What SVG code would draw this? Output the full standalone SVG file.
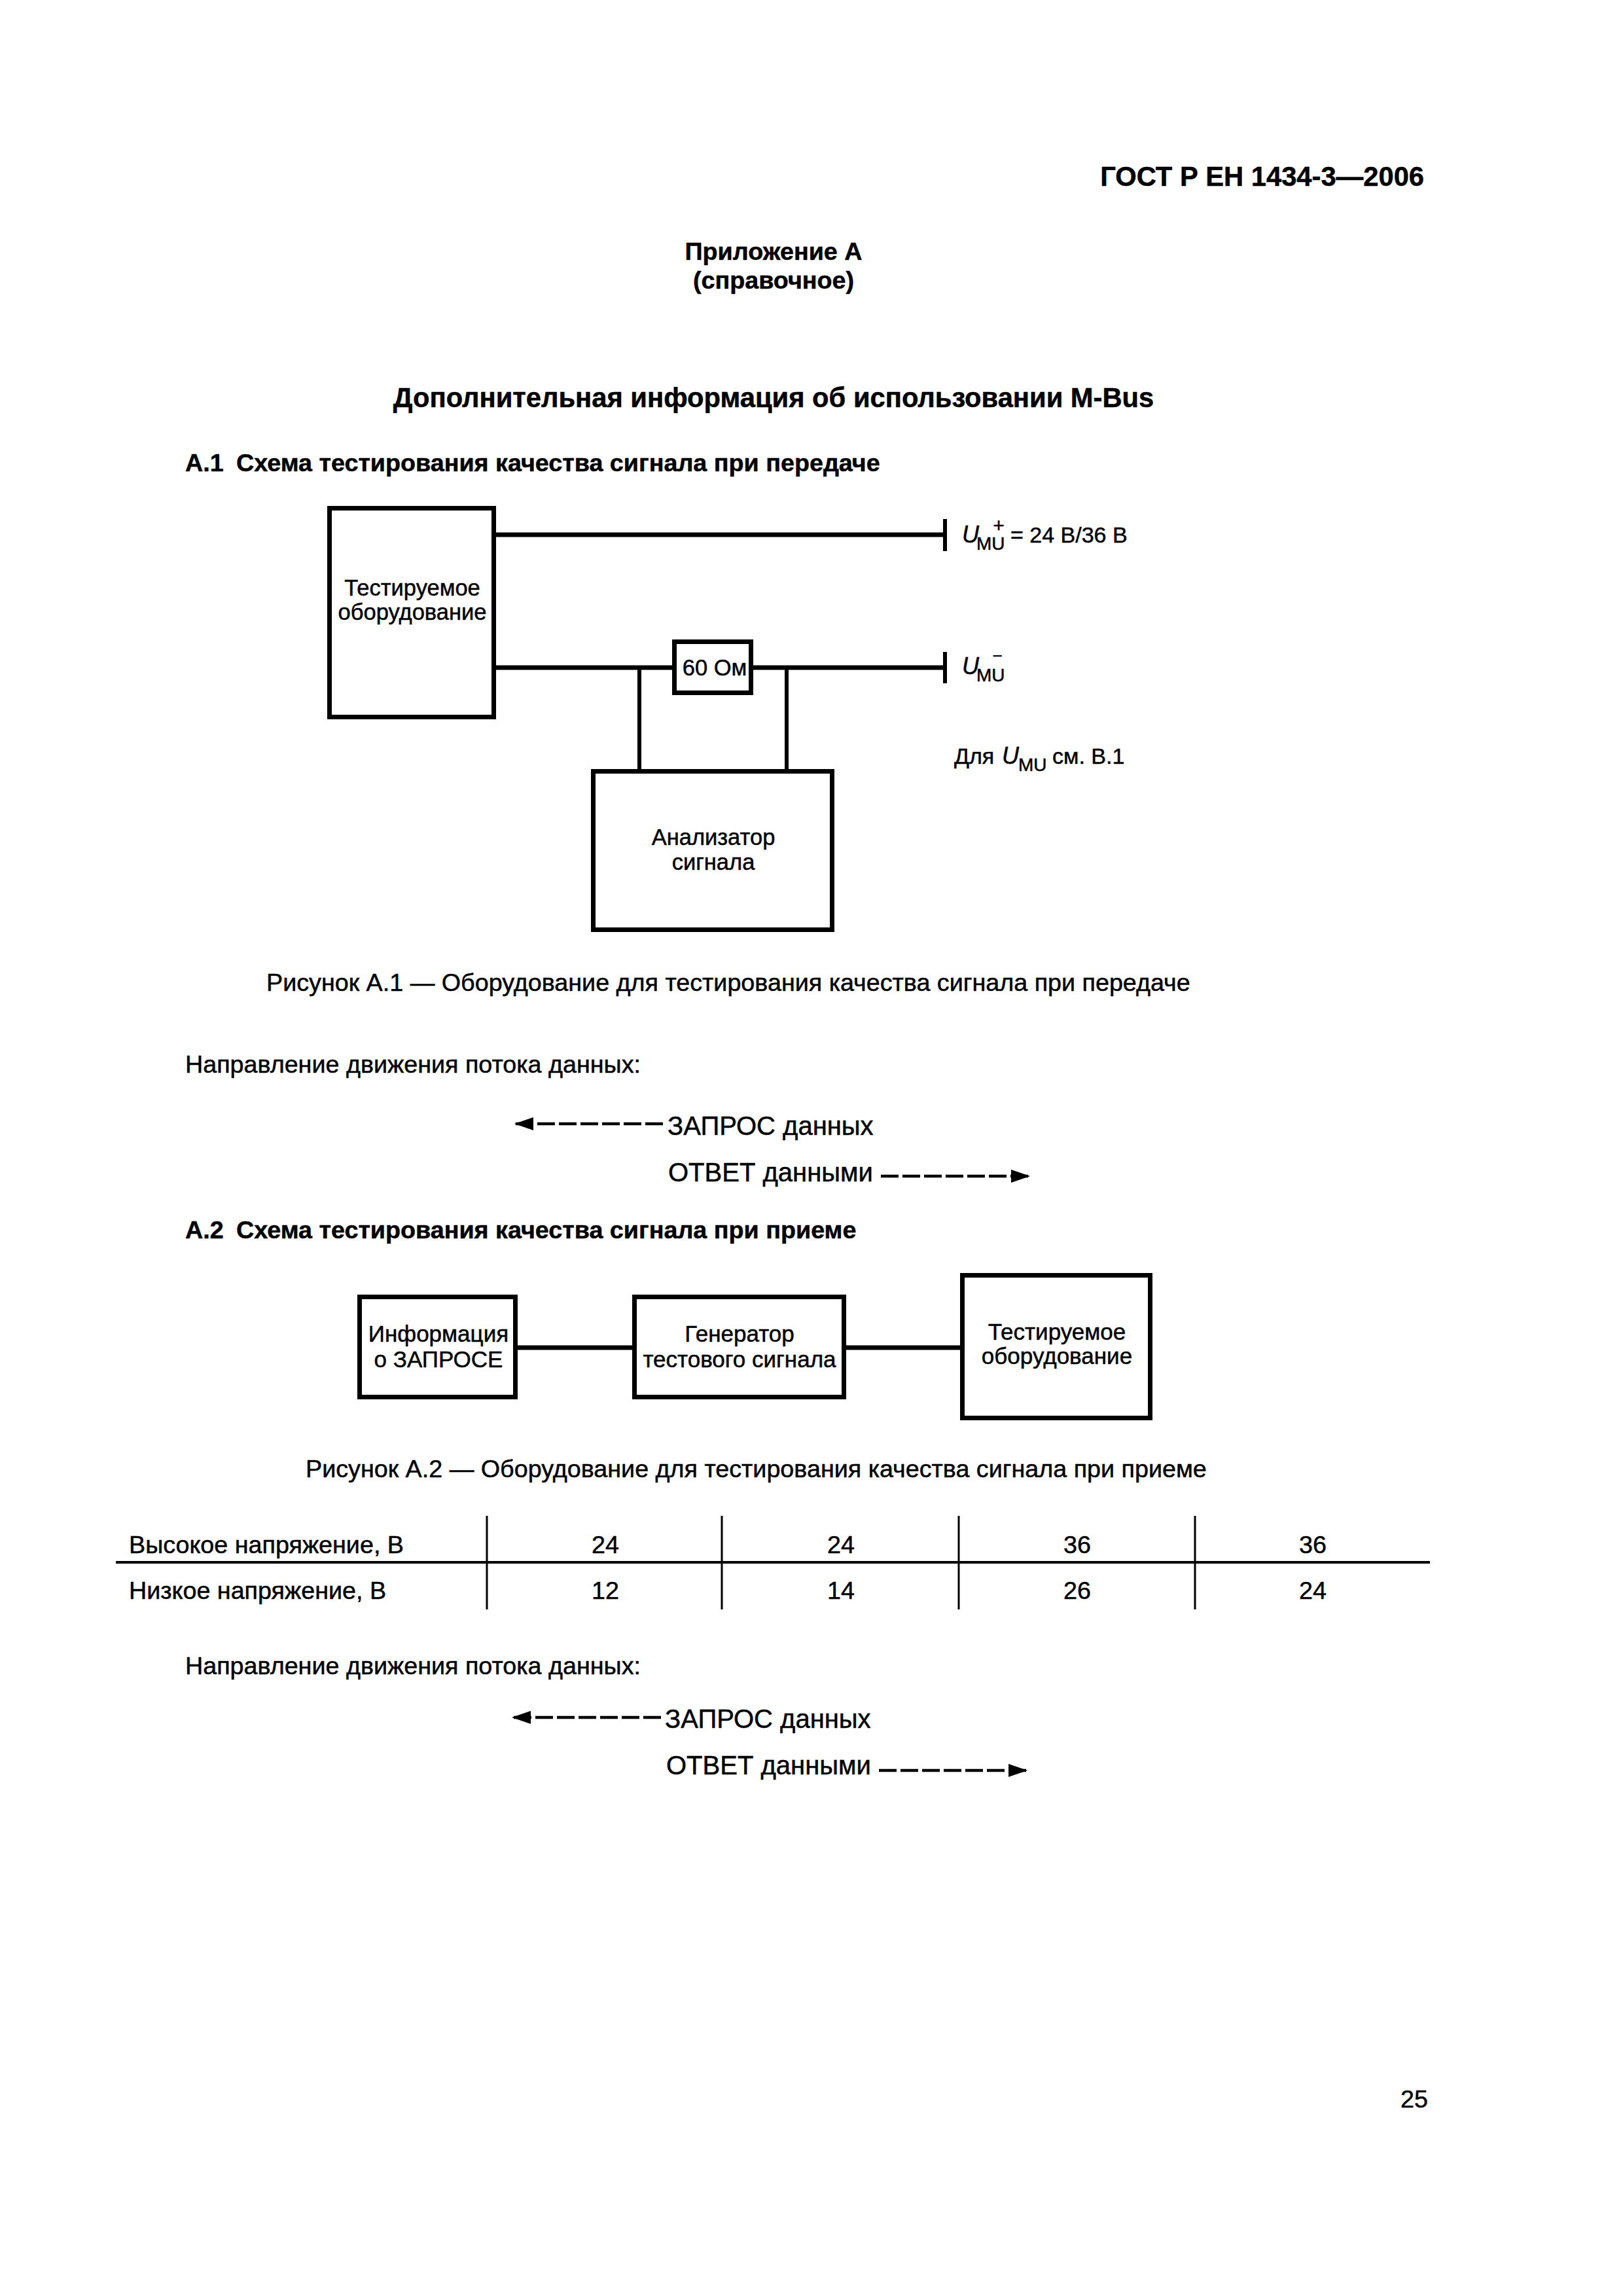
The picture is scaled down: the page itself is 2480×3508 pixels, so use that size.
<svg xmlns="http://www.w3.org/2000/svg" width="2480" height="3508" viewBox="0 0 2480 3508">
<style>
text{font-family:"Liberation Sans",Arial,sans-serif;font-size:37.700px;fill:#000;stroke:#000;stroke-width:.5px}
.b{font-weight:bold}
.c{text-anchor:middle}
.e{text-anchor:end}
.h{font-size:41.700px}
.n{font-size:34.500px}
.m{font-size:35px}
.f{font-size:40px}
.l{font-size:34px}
.i{font-style:italic;font-size:36px}
.s{font-size:28px}
.box{fill:#fff;stroke:#000;stroke-width:7}
.w{fill:none;stroke:#000;stroke-width:7}
.t{fill:none;stroke:#000;stroke-width:6}
.g{fill:none;stroke:#000;stroke-width:3}
.r{fill:none;stroke:#000;stroke-width:4}
.d{fill:none;stroke:#000;stroke-width:4.500;stroke-dasharray:27 6}
</style>
<defs>
<marker id="ah" markerUnits="userSpaceOnUse" markerWidth="30" markerHeight="22" refX="29" refY="10" orient="auto"><path d="M0 0L29 10L0 20Z" fill="#000"/></marker>
</defs>
<rect width="2480" height="3508" fill="#fff"/>
<g id="page-text">
<text x="2176" y="284" class="b e h">ГОСТ Р ЕН 1434-3—2006</text>
<text x="1182" y="397" class="b c">Приложение А</text>
<text x="1182" y="441" class="b c">(справочное)</text>
<text x="1182" y="622" class="b c h">Дополнительная информация об использовании M-Bus</text>
<text y="720" class="b"><tspan x="283">А.1</tspan><tspan x="361">Схема тестирования качества сигнала при передаче</tspan></text>
<text x="407" y="1514">Рисунок А.1 — Оборудование для тестирования качества сигнала при передаче</text>
<text x="283" y="1639">Направление движения потока данных:</text>
<text y="1892" class="b"><tspan x="283">А.2</tspan><tspan x="361">Схема тестирования качества сигнала при приеме</tspan></text>
<text x="467" y="2257">Рисунок А.2 — Оборудование для тестирования качества сигнала при приеме</text>
<text x="283" y="2558">Направление движения потока данных:</text>
<text x="2182" y="3220" class="e">25</text>
</g>
<g id="connectors">
<path class="w" d="M757 817H1444M757 1020H1027M1151 1020H1444M791 2059H966M1293 2059H1467"/>
<path class="t" d="M1444 793V842M1444 996V1044M977 1020V1175M1202 1020V1175"/>
<path class="d" d="M1013 1717H786" marker-end="url(#ah)"/>
<path class="d" d="M1346 1797H1574" marker-end="url(#ah)"/>
<path class="d" d="M1010 2624H782" marker-end="url(#ah)"/>
<path class="d" d="M1343 2705H1570" marker-end="url(#ah)"/>
</g>
<g id="node-equipment-1"><rect class="box" x="503.500" y="776.500" width="251" height="319"/><text x="630" y="910" class="c n">Тестируемое</text><text x="630" y="947" class="c n">оборудование</text></g>
<g id="node-resistor"><rect class="box" x="1030.500" y="980.500" width="117" height="78"/><text x="1092" y="1032" class="c n">60 Ом</text></g>
<g id="node-analyzer"><rect class="box" x="906.500" y="1178.500" width="365" height="242"/><text x="1090" y="1291" class="c n">Анализатор</text><text x="1090" y="1329" class="c n">сигнала</text></g>
<g id="label-umu-plus"><text x="1470" y="829" class="i">U</text><text x="1492" y="840" class="s">MU</text><text x="1526" y="813" class="s c" style="font-size:30px">+</text><text x="1544" y="829" class="l">= 24 В/36 В</text></g>
<g id="label-umu-minus"><text x="1470" y="1030" class="i">U</text><text x="1492" y="1041" class="s">MU</text><text x="1524" y="1011" class="c" style="font-size:26px">−</text></g>
<g id="label-note"><text x="1458" y="1167" class="l">Для</text><text x="1531" y="1167" class="i">U</text><text x="1556" y="1178" class="s">MU</text><text x="1608" y="1167" class="l">см. В.1</text></g>
<g id="flow-1"><text x="1020" y="1734" class="f">ЗАПРОС данных</text><text x="1021" y="1805" class="f">ОТВЕТ данными</text></g>
<g id="node-info"><rect class="box" x="549.500" y="1981.500" width="238" height="153"/><text x="670" y="2050" class="c m">Информация</text><text x="670" y="2089" class="c m">о ЗАПРОСЕ</text></g>
<g id="node-generator"><rect class="box" x="969.500" y="1981.500" width="320" height="153"/><text x="1130" y="2050" class="c m">Генератор</text><text x="1130" y="2089" class="c m">тестового сигнала</text></g>
<g id="node-equipment-2"><rect class="box" x="1470.500" y="1948.500" width="287" height="218"/><text x="1615" y="2047" class="c m">Тестируемое</text><text x="1615" y="2084" class="c m">оборудование</text></g>
<g id="table">
<path class="r" d="M177 2387H2185"/>
<path class="g" d="M744 2316V2459M1103 2316V2459M1465 2316V2459M1826 2316V2459"/>
<text x="197" y="2373">Высокое напряжение, В</text><text x="197" y="2443">Низкое напряжение, В</text>
<text x="925" y="2373" class="c">24</text><text x="1285" y="2373" class="c">24</text><text x="1646" y="2373" class="c">36</text><text x="2006" y="2373" class="c">36</text>
<text x="925" y="2443" class="c">12</text><text x="1285" y="2443" class="c">14</text><text x="1646" y="2443" class="c">26</text><text x="2006" y="2443" class="c">24</text>
</g>
<g id="flow-2"><text x="1016" y="2640" class="f">ЗАПРОС данных</text><text x="1018" y="2711" class="f">ОТВЕТ данными</text></g>
</svg>
